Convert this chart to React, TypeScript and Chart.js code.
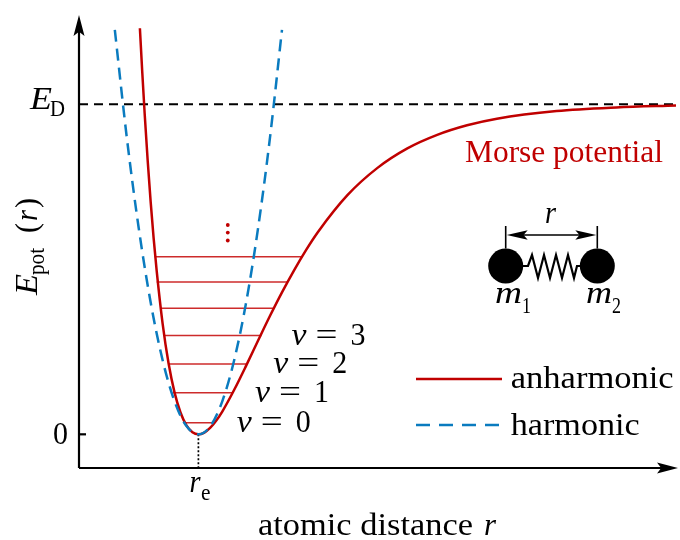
import { useEffect, useRef } from "react";
import { Chart, registerables } from "chart.js";

Chart.register(...registerables);

// ---- data (energy in units of E_D, distance in arbitrary units, r_e = 1) ----
const morseR = [0.51, 0.53, 0.55, 0.575, 0.6, 0.625, 0.65, 0.7, 0.75, 0.8, 0.85, 0.9, 0.95, 1.0, 1.05, 1.1, 1.15, 1.2, 1.3, 1.4, 1.5, 1.6, 1.7, 1.8, 1.9, 2.0, 2.25, 2.5, 2.75, 3.0, 3.25, 3.5, 4.0, 4.5, 5.0];
const morseE = [1.23, 1.096, 0.971, 0.83, 0.705, 0.5945, 0.497, 0.336, 0.215, 0.127, 0.066, 0.027, 0.0063, 0, 0.0054, 0.02, 0.0417, 0.069, 0.135, 0.208, 0.284, 0.359, 0.43, 0.496, 0.557, 0.612, 0.725, 0.807, 0.866, 0.907, 0.936, 0.956, 0.979, 0.99, 0.996];
const harmR = [0.3, 0.4, 0.5, 0.6, 0.7, 0.8, 0.9, 1.0, 1.1, 1.2, 1.3, 1.4, 1.5, 1.6, 1.7];
const harmE = [1.225, 0.9, 0.625, 0.4, 0.225, 0.1, 0.025, 0, 0.025, 0.1, 0.225, 0.4, 0.625, 0.9, 1.225];
const levelE = [0.035, 0.126, 0.213, 0.299, 0.382, 0.4615, 0.538];
const levelLeft = [0.876, 0.785, 0.751, 0.718, 0.682, 0.651, 0.634];
const levelRight = [1.127, 1.285, 1.402, 1.528, 1.636, 1.745, 1.87];
const dotsE = [0.587, 0.611, 0.634];
const dotsR = [1.246, 1.246, 1.246];
const rEq = 1;
const dissociationE = 1;
const xMin = 0;
const xMax = 5;
const yMin = -0.102;
const yMax = 1.27;
const vLabels = ["0", "1", "2", "3"];
const legendLabels = ["anharmonic", "harmonic"];

const RED = "#c00000";
const BLUE = "#0a7bbf";
const SERIF = "'Liberation Serif', 'DejaVu Serif', serif";

function txt(ctx: CanvasRenderingContext2D, s: string, x: number, y: number, font: string, color: string, w?: number) {
  ctx.save();
  ctx.font = font;
  ctx.fillStyle = color;
  ctx.textAlign = "left";
  ctx.textBaseline = "alphabetic";
  ctx.translate(x, y);
  if (w) {
    const m = ctx.measureText(s).width;
    ctx.scale(w / m, 1);
  }
  ctx.fillText(s, 0, 0);
  ctx.restore();
}

function arrowHead(ctx: CanvasRenderingContext2D, tx: number, ty: number, dx: number, dy: number, len: number, hw: number) {
  const px = -dy, py = dx;
  ctx.beginPath();
  ctx.moveTo(tx, ty);
  ctx.lineTo(tx - dx * len + px * hw, ty - dy * len + py * hw);
  ctx.lineTo(tx - dx * len * 0.8, ty - dy * len * 0.8);
  ctx.lineTo(tx - dx * len - px * hw, ty - dy * len - py * hw);
  ctx.closePath();
  ctx.fill();
}

const decor = {
  id: "decor",
  afterDraw(chart: any) {
    const ctx: CanvasRenderingContext2D = chart.ctx;
    const sx = chart.scales.x;
    const sy = chart.scales.y;
    const area = chart.chartArea;
    const x0 = area.left;
    const yb = area.bottom;
    ctx.save();
    ctx.fillStyle = "#000";
    ctx.strokeStyle = "#000";
    // axes
    ctx.lineWidth = 2.2;
    ctx.beginPath();
    ctx.moveTo(x0, yb);
    ctx.lineTo(x0, area.top + 10);
    ctx.moveTo(x0, yb);
    ctx.lineTo(area.right - 8, yb);
    ctx.stroke();
    arrowHead(ctx, x0, area.top, 0, -1, 21, 5.5);
    arrowHead(ctx, area.right + 2, yb, 1, 0, 21, 5.5);
    // zero tick
    const y0 = sy.getPixelForValue(0);
    ctx.beginPath();
    ctx.moveTo(x0, y0);
    ctx.lineTo(x0 + 7, y0);
    ctx.stroke();

    const F = (sz: number, it = false) => `${it ? "italic " : ""}${sz}px ${SERIF}`;
    const M = 32, S = 23;
    // tick labels
    txt(ctx, "0", 53, y0 + 9.5, F(M), "#000", 15);
    const yD = sy.getPixelForValue(dissociationE);
    txt(ctx, "E", 30, yD + 4.5, F(M, true), "#000", 22);
    txt(ctx, "D", 50, yD + 12, F(S), "#000", 15);
    const xr = sx.getPixelForValue(rEq);
    txt(ctx, "r", xr - 9, 491.5, F(M, true), "#000", 11);
    txt(ctx, "e", xr + 2.5, 500, F(S), "#000", 9.5);

    // axis titles
    txt(ctx, "atomic distance", 258, 535, F(M), "#000", 215);
    txt(ctx, "r", 484, 535, F(M, true), "#000", 12);
    ctx.save();
    ctx.translate(37, 295);
    ctx.rotate(-Math.PI / 2);
    txt(ctx, "E", 0, 0, F(M, true), "#000", 21);
    txt(ctx, "pot", 20, 7, F(S), "#000", 27);
    txt(ctx, "(", 62, 0, F(M), "#000", 10);
    txt(ctx, "r", 74, 0, F(M, true), "#000", 11);
    txt(ctx, ")", 87, 0, F(M), "#000", 10);
    ctx.restore();

    // Morse potential label
    txt(ctx, "Morse potential", 465, 162, F(M), RED, 198);

    // vibrational level labels
    vLabels.forEach((lab, i) => {
      const by = sy.getPixelForValue(levelE[i]) + 9.5;
      const lx = 236.7 + i * 18.3;
      txt(ctx, "v", lx, by, F(M, true), "#000", 15);
      txt(ctx, "=", lx + 24, by, F(M), "#000", 22);
      txt(ctx, lab, lx + 59, by, F(M), "#000", 15);
    });

    // legend
    ctx.lineWidth = 2.4;
    ctx.strokeStyle = RED;
    ctx.beginPath();
    ctx.moveTo(416, 379);
    ctx.lineTo(502, 379);
    ctx.stroke();
    ctx.strokeStyle = BLUE;
    ctx.setLineDash([14, 9]);
    ctx.beginPath();
    ctx.moveTo(416, 425);
    ctx.lineTo(502, 425);
    ctx.stroke();
    ctx.setLineDash([]);
    txt(ctx, legendLabels[0], 510.7, 388, F(M), "#000", 163);
    txt(ctx, legendLabels[1], 510.7, 435, F(M), "#000", 129);

    // molecule sketch
    const c1x = 505.7, c2x = 597.3, cy = 266, rad = 17.5;
    ctx.fillStyle = "#000";
    ctx.beginPath();
    ctx.arc(c1x, cy, rad, 0, Math.PI * 2);
    ctx.fill();
    ctx.beginPath();
    ctx.arc(c2x, cy, rad, 0, Math.PI * 2);
    ctx.fill();
    ctx.strokeStyle = "#000";
    ctx.lineWidth = 2.2;
    ctx.lineJoin = "miter";
    ctx.beginPath();
    ctx.moveTo(c1x + rad - 2, cy);
    ctx.lineTo(528, cy);
    const zig = [[532, 255], [538, 278], [544, 255], [550, 278], [556, 255], [562, 278], [568, 255], [574, 278]];
    zig.forEach(([px, py]) => ctx.lineTo(px, py));
    ctx.lineTo(577, cy);
    ctx.lineTo(c2x - rad + 2, cy);
    ctx.stroke();
    ctx.lineWidth = 1.6;
    ctx.beginPath();
    ctx.moveTo(c1x, cy - rad);
    ctx.lineTo(c1x, 226);
    ctx.moveTo(c2x, cy - rad);
    ctx.lineTo(c2x, 226);
    ctx.moveTo(c1x + 10, 235);
    ctx.lineTo(c2x - 10, 235);
    ctx.stroke();
    arrowHead(ctx, c1x + 1, 235, -1, 0, 21, 4.8);
    arrowHead(ctx, c2x - 1, 235, 1, 0, 21, 4.8);
    txt(ctx, "r", 545, 223, F(M, true), "#000", 11);
    txt(ctx, "m", 495, 303, F(M, true), "#000", 27);
    txt(ctx, "1", 522, 313, F(S), "#000", 9);
    txt(ctx, "m", 586, 303, F(M, true), "#000", 26);
    txt(ctx, "2", 612, 313, F(S), "#000", 9);
    ctx.restore();
  },
};

export default function App() {
  const ref = useRef<HTMLCanvasElement | null>(null);
  useEffect(() => {
    document.body.style.margin = "0";
    const canvas = ref.current;
    if (!canvas) return;
    const levelSets = levelE.map((e, i) => ({
      label: `v${i}`,
      data: [{ x: levelLeft[i], y: e }, { x: levelRight[i], y: e }],
      showLine: true,
      borderColor: "rgba(200,20,20,0.9)",
      borderWidth: 1.5,
      pointRadius: 0,
      order: 3,
    }));
    const chart = new Chart(canvas, {
      type: "scatter",
      data: {
        datasets: [
          {
            label: "harmonic",
            data: harmR.map((r, i) => ({ x: r, y: harmE[i] })),
            showLine: true,
            borderColor: BLUE,
            borderWidth: 2.5,
            borderDash: [12, 7],
            pointRadius: 0,
            cubicInterpolationMode: "monotone",
            order: 0,
          },
          {
            label: "anharmonic",
            data: morseR.map((r, i) => ({ x: r, y: morseE[i] })),
            showLine: true,
            borderColor: RED,
            borderWidth: 2.5,
            pointRadius: 0,
            cubicInterpolationMode: "monotone",
            order: 1,
          },
          {
            label: "ED",
            data: [{ x: xMin, y: dissociationE }, { x: xMax, y: dissociationE }],
            showLine: true,
            borderColor: "#000",
            borderWidth: 2,
            borderDash: [9, 6],
            pointRadius: 0,
            order: 2,
          },
          {
            label: "re",
            data: [{ x: rEq, y: 0 }, { x: rEq, y: yMin }],
            showLine: true,
            borderColor: "#000",
            borderWidth: 1.7,
            borderDash: [2, 2],
            pointRadius: 0,
            order: 2,
          },
          {
            label: "dots",
            data: dotsR.map((r, i) => ({ x: r, y: dotsE[i] })),
            showLine: false,
            pointRadius: 1.9,
            pointBackgroundColor: RED,
            pointBorderWidth: 0,
            order: 2,
          },
          ...levelSets,
        ] as any,
      },
      options: {
        animation: false,
        responsive: false,
        devicePixelRatio: 1,
        layout: { padding: { left: 79, right: 2, top: 15, bottom: 72 } },
        plugins: { legend: { display: false }, tooltip: { enabled: false } },
        scales: {
          x: { type: "linear", min: xMin, max: xMax, display: false },
          y: { type: "linear", min: yMin, max: yMax, display: false },
        },
      },
      plugins: [decor],
    });
    return () => chart.destroy();
  }, []);
  return <canvas ref={ref} width={680} height={540} style={{ display: "block" }} />;
}
